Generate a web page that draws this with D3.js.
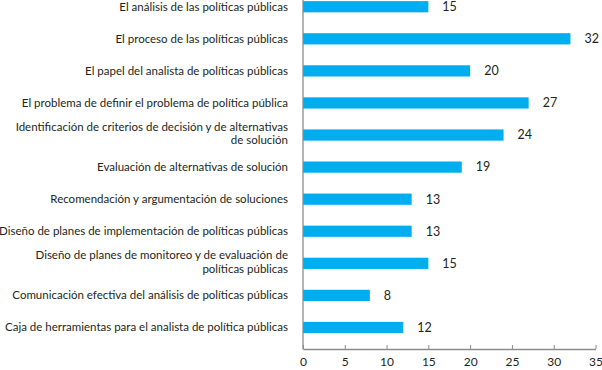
<!DOCTYPE html>
<html>
<head>
<meta charset="utf-8">
<script src="https://cdn.jsdelivr.net/npm/d3@7"></script>
<style>
  body { margin: 0; background: #fff; }
  text { font-family: Lato, "Open Sans", sans-serif; fill: #231f20; }
</style>
</head>
<body>
<div id="chart"></div>
<script>
var topics = [
  ["El análisis de las políticas públicas"],
  ["El proceso de las políticas públicas"],
  ["El papel del analista de políticas públicas"],
  ["El problema de definir el problema de política pública"],
  ["Identificación de criterios de decisión y de alternativas", "de solución"],
  ["Evaluación de alternativas de solución"],
  ["Recomendación y argumentación de soluciones"],
  ["Diseño de planes de implementación de políticas públicas"],
  ["Diseño de planes de monitoreo y de evaluación de", "políticas públicas"],
  ["Comunicación efectiva del análisis de políticas públicas"],
  ["Caja de herramientas para el analista de política públicas"]
]
var counts = [15, 32, 20, 27, 24, 19, 13, 13, 15, 8, 12]
var xTicks = [0, 5, 10, 15, 20, 25, 30, 35]

var width = 602, height = 370
var data = topics.map(function(t, i){ return {label: t, value: counts[i], i: i} })

var svg = d3.select("#chart").append("svg")
    .attr("width", width)
    .attr("height", height)

var x = d3.scaleLinear().domain([0, 35]).range([303, 595.5])
var y = d3.scaleBand().domain(d3.range(data.length))
    .range([-9.3, 343.5]).paddingInner(0.65).paddingOuter(0.325)

// bars
svg.selectAll(".bar").data(data).enter()
  .append("rect")
    .attr("class", "bar")
    .attr("x", x(0))
    .attr("y", function(d){ return y(d.i) })
    .attr("width", function(d){ return x(d.value) - x(0) })
    .attr("height", y.bandwidth())
    .attr("fill", "#00aeef")

// value labels
svg.selectAll(".val").data(data).enter()
  .append("text")
    .attr("class", "val")
    .attr("x", function(d){ return x(d.value) + 14 })
    .attr("y", function(d){ return y(d.i) + y.bandwidth() / 2 })
    .attr("dy", "0.35em")
    .attr("font-size", "12.5px")
    .text(function(d){ return d.value })

// category labels (one or two lines, right aligned)
var lab = svg.selectAll(".cat").data(data).enter()
  .append("text")
    .attr("class", "cat")
    .attr("text-anchor", "end")
    .attr("font-size", "11.5px")
    .attr("y", function(d){ return y(d.i) + y.bandwidth() / 2 })

lab.selectAll("tspan").data(function(d){ return d.label.map(function(s, k){ return {s: s, k: k, n: d.label.length} }) })
  .enter().append("tspan")
    .attr("x", 288)
    .attr("dy", function(t){
      if (t.k == 0) return (t.n == 1 ? 0.35 : -0.35) + "em"
      return "1.17em"
    })
    .text(function(t){ return t.s })

// x axis
var xAxis = d3.axisBottom(x).tickValues(xTicks).tickSize(0).tickPadding(8)
var gx = svg.append("g")
    .attr("transform", "translate(0,349)")
    .call(xAxis)
gx.select(".domain").attr("stroke", "#8c8c8c").attr("stroke-width", 1.3)
gx.selectAll(".tick text").attr("font-size", "12px").attr("font-family", "Lato, sans-serif").attr("fill", "#231f20")
gx.selectAll(".tick").append("line")
    .attr("y1", 0).attr("y2", -4)
    .attr("stroke", "#8c8c8c")

// y axis line
svg.append("line")
    .attr("x1", x(0)).attr("x2", x(0))
    .attr("y1", 0).attr("y2", 349.6)
    .attr("stroke", "#8c8c8c")
    .attr("stroke-width", 1.3)
</script>
</body>
</html>
